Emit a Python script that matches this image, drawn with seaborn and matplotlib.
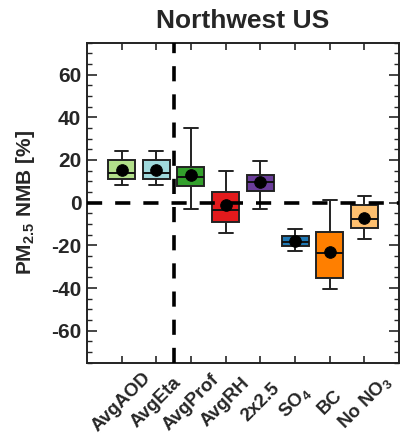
import numpy as np
import pandas as pd
import matplotlib.pyplot as plt
import seaborn as sns

labels = ['AvgAOD', 'AvgEta', 'AvgProf', 'AvgRH', '2x2.5', 'SO$_4$', 'BC', 'No NO$_3$']
whisker_low = [8.1, 8.1, -3.1, -14.4, -3.1, -22.5, -40.6, -16.9]
q1 = [11.1, 11.1, 7.6, -9.1, 5.5, -20.3, -35.2, -11.9]
median = [13.7, 13.7, 12.0, -3.3, 9.5, -18.6, -23.6, -7.5]
q3 = [19.8, 19.8, 16.9, 4.8, 13.1, -15.6, -13.9, -1.3]
whisker_high = [24.3, 24.3, 35.0, 14.8, 19.4, -12.5, 1.1, 3.1]
mean = [15.3, 15.3, 13.1, -1.3, 9.5, -18.0, -23.0, -7.0]

colors = ['#b2df8a', '#a0d9dc', '#33a02c', '#e31a1c', '#6a3d9a', '#1f78b4', '#ff7f00', '#fdbf6f']

# Five-number summaries as long-form data for seaborn
rows = []
for i, lab in enumerate(labels):
    for v in (whisker_low[i], q1[i], median[i], q3[i], whisker_high[i]):
        rows.append({'exp': lab, 'nmb': v})
df = pd.DataFrame(rows)
means = pd.DataFrame({'exp': labels, 'nmb': mean})

sns.set_style('ticks')
plt.rcParams['font.family'] = ['Liberation Sans', 'DejaVu Sans']
plt.rcParams['mathtext.fontset'] = 'custom'
plt.rcParams['mathtext.rm'] = 'Liberation Sans:bold'
plt.rcParams['mathtext.it'] = 'Liberation Sans:bold'
plt.rcParams['mathtext.bf'] = 'Liberation Sans:bold'
plt.rcParams['axes.unicode_minus'] = False

fig = plt.figure(figsize=(4.02, 4.34), dpi=100)
ax = fig.add_axes([0.216, 0.164, 0.777, 0.738])

sns.boxplot(data=df, x='exp', y='nmb', hue='exp', palette=colors, legend=False,
            whis=(0, 100), width=0.78, linewidth=1.4, linecolor='#222222',
            saturation=1, ax=ax,
            capprops={'color': '#222222'},
            whiskerprops={'color': '#222222'},
            medianprops={'color': '#111111', 'linewidth': 1.4})
# caps narrower than the box
for line in ax.lines:
    xd = line.get_xdata()
    yd = line.get_ydata()
    if len(xd) == 2 and yd[0] == yd[1] and abs(xd[1] - xd[0]) > 0.3:
        c = (xd[0] + xd[1]) / 2
        if yd[0] in whisker_low or yd[0] in whisker_high:
            line.set_xdata([c - 0.2, c + 0.2])

sns.scatterplot(data=means, x='exp', y='nmb', color='black', s=70, zorder=5,
                edgecolor='black', ax=ax)

ax.axhline(0, color='black', lw=2.6, dashes=(4.2, 3.6), zorder=4)
ax.axvline(1.5, color='black', lw=2.6, dashes=(4.2, 3.6), zorder=4)

ax.set_xlim(-1, 8)
ax.set_ylim(-75, 75)
ax.set_yticks(np.arange(-60, 61, 20))
ax.set_yticks(np.arange(-75, 76, 5), minor=True)
ax.set_xticks(range(len(labels)))
ax.set_xticklabels(labels, rotation=45, ha='center', va='center',
                   rotation_mode='default', fontsize=13.5, fontweight='bold')
for t in ax.get_yticklabels():
    t.set_fontweight('bold')
    t.set_fontsize(15)
ax.tick_params(axis='y', which='major', direction='in', length=7, width=1.2,
               left=True, right=True, pad=4)
ax.tick_params(axis='y', which='minor', direction='in', length=3.5, width=1,
               left=True, right=True)
ax.tick_params(axis='x', which='major', direction='in', length=5, width=1.2,
               bottom=True, top=True, pad=28.5)
for s in ax.spines.values():
    s.set_linewidth(1.4)
    s.set_color('#222222')

ax.set_xlabel('')
ax.set_ylabel('PM$_{2.5}$ NMB [%]', fontsize=15, fontweight='bold', labelpad=10)
ax.set_title('Northwest US', fontsize=19, fontweight='bold', pad=10.5)

fig.savefig('out.png', dpi=100)
